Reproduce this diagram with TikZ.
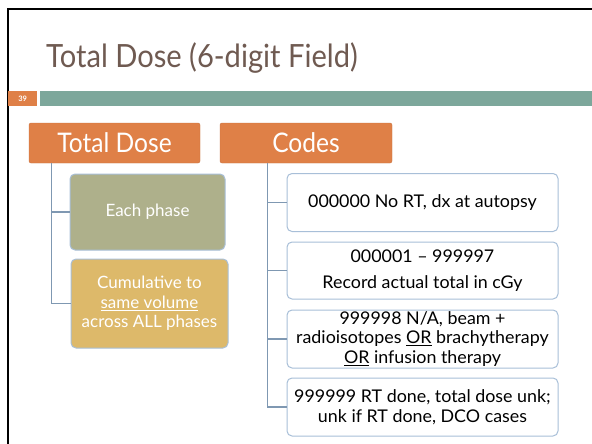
\documentclass[tikz,border=0pt]{standalone}
\usepackage{fontspec}
\setmainfont{Lato}
\newfontfamily\titlefont[FakeStretch=0.91,Ligatures=TeX]{Lato}
\newfontfamily\codefont[FakeStretch=1.02,Ligatures=TeX]{Lato}
\definecolor{orng}{HTML}{DF8047}
\definecolor{teal}{HTML}{7DA79B}
\definecolor{olive}{HTML}{AEB08B}
\definecolor{gold}{HTML}{DDB96A}
\definecolor{edge}{HTML}{A8BFD8}
\definecolor{conn}{HTML}{7F98B2}
\definecolor{ttl}{HTML}{6F5A51}
\tikzset{
  hdr/.style={fill=orng, draw=orng!90!black, rounded corners=2pt, text=white,
    minimum width=171pt, minimum height=40pt, inner sep=0pt,
    font=\titlefont\fontsize{27}{30}\selectfont},
  leaf/.style={draw=edge, line width=1pt, rounded corners=5pt, text=white,
    align=center, inner sep=0pt, font=\fontsize{17}{19.5}\selectfont},
  codebox/.style={draw=edge, line width=1pt, rounded corners=5pt, fill=white,
    text=black, align=center, inner sep=0pt, minimum width=271pt,
    minimum height=57pt, font=\codefont\fontsize{17.5}{19.5}\selectfont},
  link/.style={draw=conn, line width=1.2pt}
}
\begin{document}
\begin{tikzpicture}[x=1pt,y=-1pt]
\useasboundingbox (0,0) rectangle (592,444);
\fill[white] (0,0) rectangle (592,444);
% frame
\draw[line width=2pt] (8,445) -- (8,9) -- (593,9);
% title
\node[anchor=base west, text=ttl, inner sep=0pt, font=\titlefont\fontsize{32}{36}\selectfont] (title) at (46,68) {Total Dose (6-digit Field)};
% number box and bar
\node[fill=orng, minimum width=29pt, minimum height=15pt, inner sep=0pt, text=white,
  font=\fontsize{7.5}{8}\selectfont\bfseries, anchor=north west] (num) at (8,91) {39};
\node[fill=teal, minimum width=553pt, minimum height=15pt, inner sep=0pt, anchor=north west] (bar) at (40,91) {};
% headers
\node[hdr] (hdrL) at (114.5,143) {Total Dose};
\node[hdr, minimum width=172pt] (hdrR) at (306,143) {Codes};
% left leaves
\node[leaf, fill=olive, minimum width=155pt, minimum height=76pt] (each) at (147.5,212) {Each phase};
\node[leaf, fill=gold, minimum width=157pt, minimum height=89pt] (cum) at (149.5,303.5)
  {Cumulative to\\\underline{same volume}\\across ALL phases};
% code boxes
\node[codebox, minimum height=58pt] (c1) at (422.5,202.5) {000000 No RT, dx at autopsy};
\node[codebox] (c2) at (422.5,270.5) {000001 \textendash{} 999997\\[6.5pt]Record actual total in cGy};
\node[codebox, minimum height=58pt] (c3) at (422.5,339)
  {999998 N/A, beam +\\radioisotopes \underline{OR} brachytherapy\\\underline{OR} infusion therapy};
\node[codebox, minimum height=58pt] (c4) at (422.5,407)
  {999999 RT done, total dose unk;\\unk if RT done, DCO cases};
% connectors
\draw[link] ([xshift=23pt]hdrL.south west) |- (each.west);
\draw[link] ([xshift=23pt]hdrL.south west) |- (cum.west);
\draw[link] ([xshift=48pt]hdrR.south west) |- (c1.west);
\draw[link] ([xshift=48pt]hdrR.south west) |- (c2.west);
\draw[link] ([xshift=48pt]hdrR.south west) |- (c3.west);
\draw[link] ([xshift=48pt]hdrR.south west) |- (c4.west);
\end{tikzpicture}
\end{document}
